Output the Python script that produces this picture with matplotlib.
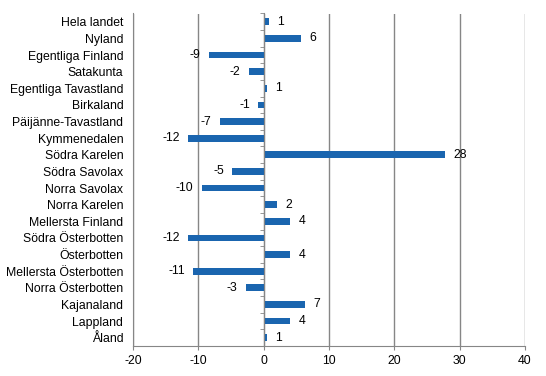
import matplotlib.pyplot as plt
import numpy as np

plt.rcParams['font.family'] = ['Liberation Sans', 'DejaVu Sans']
plt.rcParams['axes.unicode_minus'] = False

regions = ['Hela landet', 'Nyland', 'Egentliga Finland', 'Satakunta',
           'Egentliga Tavastland', 'Birkaland', 'Päijänne-Tavastland',
           'Kymmenedalen', 'Södra Karelen', 'Södra Savolax', 'Norra Savolax',
           'Norra Karelen', 'Mellersta Finland', 'Södra Österbotten',
           'Österbotten', 'Mellersta Österbotten', 'Norra Österbotten',
           'Kajanaland', 'Lappland', 'Åland']
values = [0.8, 5.7, -8.4, -2.3, 0.5, -0.8, -6.7, -11.6, 27.7, -4.8, -9.5,
          2.1, 4.1, -11.6, 4.1, -10.8, -2.7, 6.4, 4.1, 0.5]
labels = [1, 6, -9, -2, 1, -1, -7, -12, 28, -5, -10,
          2, 4, -12, 4, -11, -3, 7, 4, 1]
xticks = [-20, -10, 0, 10, 20, 30, 40]

grey = '#868686'
blue = '#1A65AF'
fs = 8.8

fig = plt.figure(figsize=(5.46, 3.76), dpi=100)
ax = fig.add_axes([133/546, 1-346/376, 392/546, 332.5/376])

y = np.arange(len(regions))
ax.barh(y, values, height=0.4, color=blue, zorder=3)

for yi, v, lab in zip(y, values, labels):
    if v >= 0:
        ax.annotate(str(lab), (v, yi), xytext=(6, 0), textcoords='offset points',
                    ha='left', va='center', fontsize=fs)
    else:
        ax.annotate(str(lab), (v, yi), xytext=(-6, 0), textcoords='offset points',
                    ha='right', va='center', fontsize=fs)

ax.set_xlim(-20, 40)
ax.set_ylim(len(regions) - 0.5, -0.5)
ax.set_xticks(xticks)
ax.set_yticks(y)
ax.set_yticklabels(regions)
ax.set_yticks(np.arange(len(regions) + 1) - 0.5, minor=True)

ax.xaxis.grid(True, color=grey, linewidth=1)
ax.set_axisbelow(True)

ax.spines['top'].set_visible(False)
ax.spines['left'].set_color(grey)
ax.spines['bottom'].set_color(grey)
ax.spines['right'].set_position(('data', 0))
ax.spines['right'].set_color(grey)
ax.spines['right'].set_zorder(4)

ax.tick_params(axis='y', which='major', length=0, labelsize=fs, pad=7)
ax.tick_params(axis='y', which='minor', left=False, right=True,
               direction='in', length=3, color=grey)
ax.tick_params(axis='x', length=3, color=grey, labelsize=fs)

fig.savefig('out.png', dpi=100)
